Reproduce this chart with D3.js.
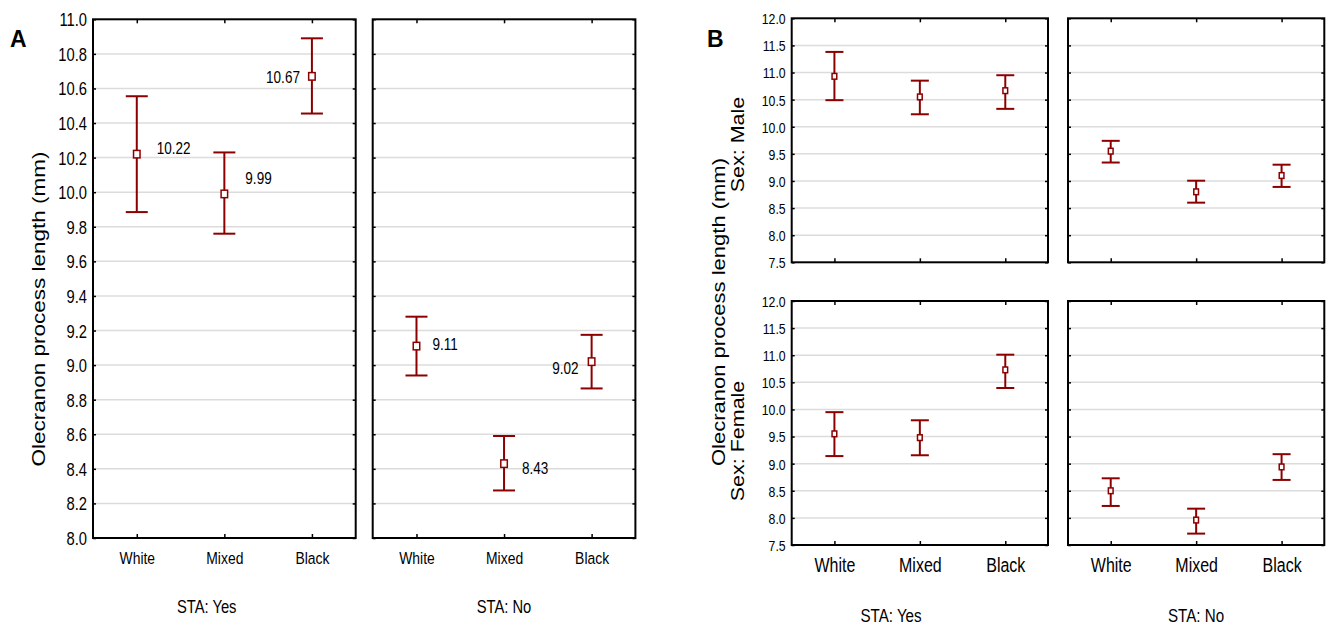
<!DOCTYPE html>
<html>
<head>
<meta charset="utf-8">
<script src="https://cdn.jsdelivr.net/npm/d3@7"></script>
<style>
  body { margin: 0; background: #fff; }
  text { font-family: "Liberation Sans", Arial, sans-serif; fill: #000; }
</style>
</head>
<body>
<svg id="chart" width="1333" height="626"></svg>
<script>
// Data
var categories = ["White", "Mixed", "Black"];
var staLevels = ["Yes", "No"];
var sexLevels = ["Male", "Female"];

// panel A: means and interval ends, STA yes / no
var aMeanYes = [10.22, 9.99, 10.67];
var aUpperYes = [10.555, 10.23, 10.89];
var aLowerYes = [9.885, 9.76, 10.455];
var aMeanNo = [9.11, 8.43, 9.02];
var aUpperNo = [9.28, 8.59, 9.175];
var aLowerNo = [8.94, 8.275, 8.865];
var aLabelsYes = ["10.22", "9.99", "10.67"];
var aLabelsNo = ["9.11", "8.43", "9.02"];

// panel B: by sex, STA yes / no
var bMaleYesMean = [10.93, 10.55, 10.665];
var bMaleYesUpper = [11.38, 10.85, 10.95];
var bMaleYesLower = [10.49, 10.23, 10.33];
var bMaleNoMean = [9.55, 8.80, 9.10];
var bMaleNoUpper = [9.74, 9.005, 9.30];
var bMaleNoLower = [9.34, 8.60, 8.89];
var bFemaleYesMean = [9.55, 9.48, 10.73];
var bFemaleYesUpper = [9.95, 9.80, 11.01];
var bFemaleYesLower = [9.14, 9.155, 10.395];
var bFemaleNoMean = [8.50, 7.96, 8.94];
var bFemaleNoUpper = [8.73, 8.17, 9.175];
var bFemaleNoLower = [8.22, 7.71, 8.70];

var aTicks = [8.0, 8.2, 8.4, 8.6, 8.8, 9.0, 9.2, 9.4, 9.6, 9.8, 10.0, 10.2, 10.4, 10.6, 10.8, 11.0];
var bTicks = [7.5, 8.0, 8.5, 9.0, 9.5, 10.0, 10.5, 11.0, 11.5, 12.0];

// Layout
var SX = 0.82;          // horizontal squeeze of the text
var RED = "#8b0000";
var svg = d3.select("#chart");

// value label placement (dx, dy from the mean marker, anchor)
var aLabelPosYes = [[20, 0, "start"], [21, -10, "start"], [-12, 6.5, "end"]];
var aLabelPosNo = [[16, 4, "start"], [18, 10, "start"], [-13, 12, "end"]];

function sqText(sel, x, y, str, size, anchor, rot) {
    return sel.append("text")
        .attr("transform", "translate(" + x + "," + y + ") scale(" + SX + ",1)" + (rot ? " rotate(-90)" : ""))
        .attr("text-anchor", anchor || "middle")
        .style("font-size", size + "px")
        .text(str);
}

function facet(opt) {
    var g = svg.append("g");
    var x = d3.scalePoint().domain(categories).range([opt.x0 + opt.w / 6, opt.x0 + opt.w * 5 / 6]);
    var y = d3.scaleLinear().domain(opt.domain).range([opt.y0 + opt.h, opt.y0]);

    // grid
    g.append("g").selectAll("line")
        .data(opt.ticks.slice(1, -1))
        .enter().append("line")
        .attr("x1", opt.x0).attr("x2", opt.x0 + opt.w)
        .attr("y1", function (d) { return y(d); }).attr("y2", function (d) { return y(d); })
        .style("stroke", "#dcdcdc").style("stroke-width", 1.5);

    // left axis (inner ticks)
    var left = g.append("g").attr("transform", "translate(" + opt.x0 + ",0)")
        .call(d3.axisLeft(y).tickValues(opt.ticks).tickSizeInner(-3).tickSizeOuter(0)
            .tickFormat(opt.yLabels ? d3.format(".1f") : ""));
    left.selectAll("text")
        .attr("x", -6 / SX).attr("dy", "0.36em")
        .attr("transform", "scale(" + SX + ",1)")
        .style("font-size", opt.tickSize + "px").attr("fill", "#000");

    g.append("g").attr("transform", "translate(" + (opt.x0 + opt.w) + ",0)")
        .call(d3.axisRight(y).tickValues(opt.ticks).tickSizeInner(-3).tickSizeOuter(0).tickFormat(""));
    g.append("g").attr("transform", "translate(0," + opt.y0 + ")")
        .call(d3.axisTop(x).tickSizeInner(-4).tickSizeOuter(0).tickFormat(""));
    var bottom = g.append("g").attr("transform", "translate(0," + (opt.y0 + opt.h) + ")")
        .call(d3.axisBottom(x).tickSizeInner(-4).tickSizeOuter(0).tickFormat(opt.xLabels ? null : ""));
    bottom.selectAll("text")
        .attr("y", opt.catOffset).attr("dy", 0).attr("x", 0)
        .attr("transform", "scale(" + SX + ",1)")
        .style("font-size", opt.catSize + "px").attr("fill", "#000");

    g.selectAll(".domain").remove();
    g.selectAll(".tick line").style("stroke", "#000").style("stroke-width", 1.5);

    // frame
    g.append("rect")
        .attr("x", opt.x0).attr("y", opt.y0).attr("width", opt.w).attr("height", opt.h)
        .style("fill", "none").style("stroke", "#000").style("stroke-width", 2);

    // error bars
    var bars = g.append("g").selectAll("g")
        .data(categories)
        .enter().append("g");
    bars.append("line")
        .attr("x1", function (d) { return x(d); }).attr("x2", function (d) { return x(d); })
        .attr("y1", function (d, i) { return y(opt.upper[i]); })
        .attr("y2", function (d, i) { return y(opt.lower[i]); });
    bars.append("line")
        .attr("x1", function (d) { return x(d) - opt.cap; }).attr("x2", function (d) { return x(d) + opt.cap; })
        .attr("y1", function (d, i) { return y(opt.upper[i]); })
        .attr("y2", function (d, i) { return y(opt.upper[i]); });
    bars.append("line")
        .attr("x1", function (d) { return x(d) - opt.cap; }).attr("x2", function (d) { return x(d) + opt.cap; })
        .attr("y1", function (d, i) { return y(opt.lower[i]); })
        .attr("y2", function (d, i) { return y(opt.lower[i]); });
    bars.selectAll("line").style("stroke", RED).style("stroke-width", 2);
    bars.append("rect")
        .attr("x", function (d) { return x(d) - opt.mw / 2; })
        .attr("y", function (d, i) { return y(opt.mean[i]) - opt.mh / 2; })
        .attr("width", opt.mw).attr("height", opt.mh)
        .style("fill", "#fff").style("stroke", RED).style("stroke-width", 1.5);

    if (opt.labels) {
        opt.labels.forEach(function (s, i) {
            var p = opt.labelPos[i];
            sqText(g, x(categories[i]) + p[0], y(opt.mean[i]) + p[1], s, 16.5, p[2]);
        });
    }
    return g;
}

// Panel A
var aCols = [93, 372.7];
var aMeans = [aMeanYes, aMeanNo], aUps = [aUpperYes, aUpperNo], aLows = [aLowerYes, aLowerNo];
var aLabs = [aLabelsYes, aLabelsNo], aPos = [aLabelPosYes, aLabelPosNo];
staLevels.forEach(function (s, i) {
    facet({
        x0: aCols[i], y0: 19.3, w: 262.7, h: 518.7, domain: [8, 11], ticks: aTicks,
        yLabels: i === 0, xLabels: true, tickSize: 18, catSize: 17, catOffset: 26.5,
        mean: aMeans[i], upper: aUps[i], lower: aLows[i], cap: 11, mw: 6.5, mh: 7.5,
        labels: aLabs[i], labelPos: aPos[i]
    });
});
sqText(svg, 206.7, 613, "STA: Yes", 18);
sqText(svg, 504, 613, "STA: No", 18);
sqText(svg, 45, 309, "Olecranon process length (mm)", 22.5, "middle", true);
svg.append("text").attr("x", 10).attr("y", 46.7)
    .style("font-size", "23px").style("font-weight", "bold").text("A");

// Panel B
var bCols = [791.7, 1068];
var bRows = [18.3, 301];
var bMeans = [[bMaleYesMean, bMaleNoMean], [bFemaleYesMean, bFemaleNoMean]];
var bUps = [[bMaleYesUpper, bMaleNoUpper], [bFemaleYesUpper, bFemaleNoUpper]];
var bLows = [[bMaleYesLower, bMaleNoLower], [bFemaleYesLower, bFemaleNoLower]];
sexLevels.forEach(function (sex, r) {
    staLevels.forEach(function (s, c) {
        facet({
            x0: bCols[c], y0: bRows[r], w: 256.3, h: 244, domain: [7.5, 12], ticks: bTicks,
            yLabels: c === 0, xLabels: r === 1, tickSize: 15, catSize: 19.5, catOffset: 27.5,
            mean: bMeans[r][c], upper: bUps[r][c], lower: bLows[r][c], cap: 9, mw: 4.7, mh: 5.7
        });
    });
});
sqText(svg, 891, 621.5, "STA: Yes", 18.5);
sqText(svg, 1196, 621.5, "STA: No", 18.5);
sqText(svg, 725, 312, "Olecranon process length (mm)", 22, "middle", true);
sqText(svg, 744, 144.5, "Sex: Male", 21.5, "middle", true);
sqText(svg, 744, 441, "Sex: Female", 21.5, "middle", true);
svg.append("text").attr("x", 707).attr("y", 46.7)
    .style("font-size", "23px").style("font-weight", "bold").text("B");
</script>
</body>
</html>
